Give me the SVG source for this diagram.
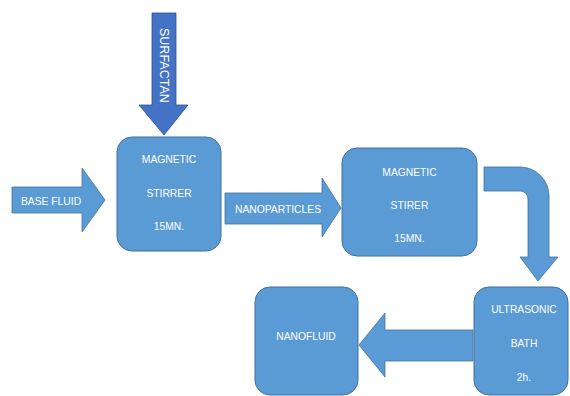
<svg xmlns="http://www.w3.org/2000/svg" width="570" height="396" viewBox="0 0 570 396">
<style>
.box{fill:#5B9BD5;stroke:#41719C;stroke-width:1}
.arr{fill:#5B9BD5;stroke:#41719C;stroke-width:0.8}
.arr2{fill:#4472C4;stroke:#2F528F;stroke-width:0.8}
text{font-family:"Liberation Sans",Arial,sans-serif;font-size:10.3px;fill:#FFFFFF}
.c{text-anchor:middle}
</style>
<rect width="570" height="396" fill="#FFFFFF"/>
<g id="connectors">
  <g id="surfactant">
    <path class="arr2" d="M152,13 L176,13 L176,105 L188,105 L164,135 L139,105 L152,105 Z"/>
    <text transform="translate(159.5,28) rotate(90)" style="font-size:12.5px">SURFACTAN</text>
  </g>
  <g id="base-fluid">
    <path class="arr" d="M12,187 L82,187 L82,168 L105,200 L82,232 L82,213 L12,213 Z"/>
    <text x="21" y="205">BASE FLUID</text>
  </g>
  <g id="nanoparticles">
    <path class="arr" d="M225,193 L322,193 L322,178 L341,208 L322,237 L322,224 L225,224 Z"/>
    <text x="235" y="213">NANOPARTICLES</text>
  </g>
  <path id="bent-arrow" class="arr" d="M484,167 L520,167 A29,29 0 0 1 549,196 L549,257 L558,257 L538,281 L520,257 L528,257 L528,199 A8,8 0 0 0 520,191 L484,191 Z"/>
  <path id="to-nanofluid" class="arr" d="M473,330 L385,330 L385,313 L359,345 L385,377 L385,361 L473,361 Z"/>
</g>
<g id="stirrer1">
  <rect class="box" x="117" y="137" width="104" height="114" rx="15"/>
  <text class="c" x="169" y="163">MAGNETIC</text>
  <text class="c" x="169" y="197">STIRRER</text>
  <text class="c" x="169" y="230">15MN.</text>
</g>
<g id="stirrer2">
  <rect class="box" x="342" y="148" width="135" height="108" rx="15"/>
  <text class="c" x="409.5" y="176">MAGNETIC</text>
  <text class="c" x="409.5" y="209">STIRER</text>
  <text class="c" x="409.5" y="242">15MN.</text>
</g>
<g id="ultrasonic">
  <rect class="box" x="474" y="287" width="94" height="108" rx="15"/>
  <text class="c" x="524" y="313">ULTRASONIC</text>
  <text class="c" x="524" y="347">BATH</text>
  <text class="c" x="524" y="381">2h.</text>
</g>
<g id="nanofluid">
  <rect class="box" x="255" y="287" width="103" height="108" rx="15"/>
  <text class="c" x="306" y="340">NANOFLUID</text>
</g>
</svg>
